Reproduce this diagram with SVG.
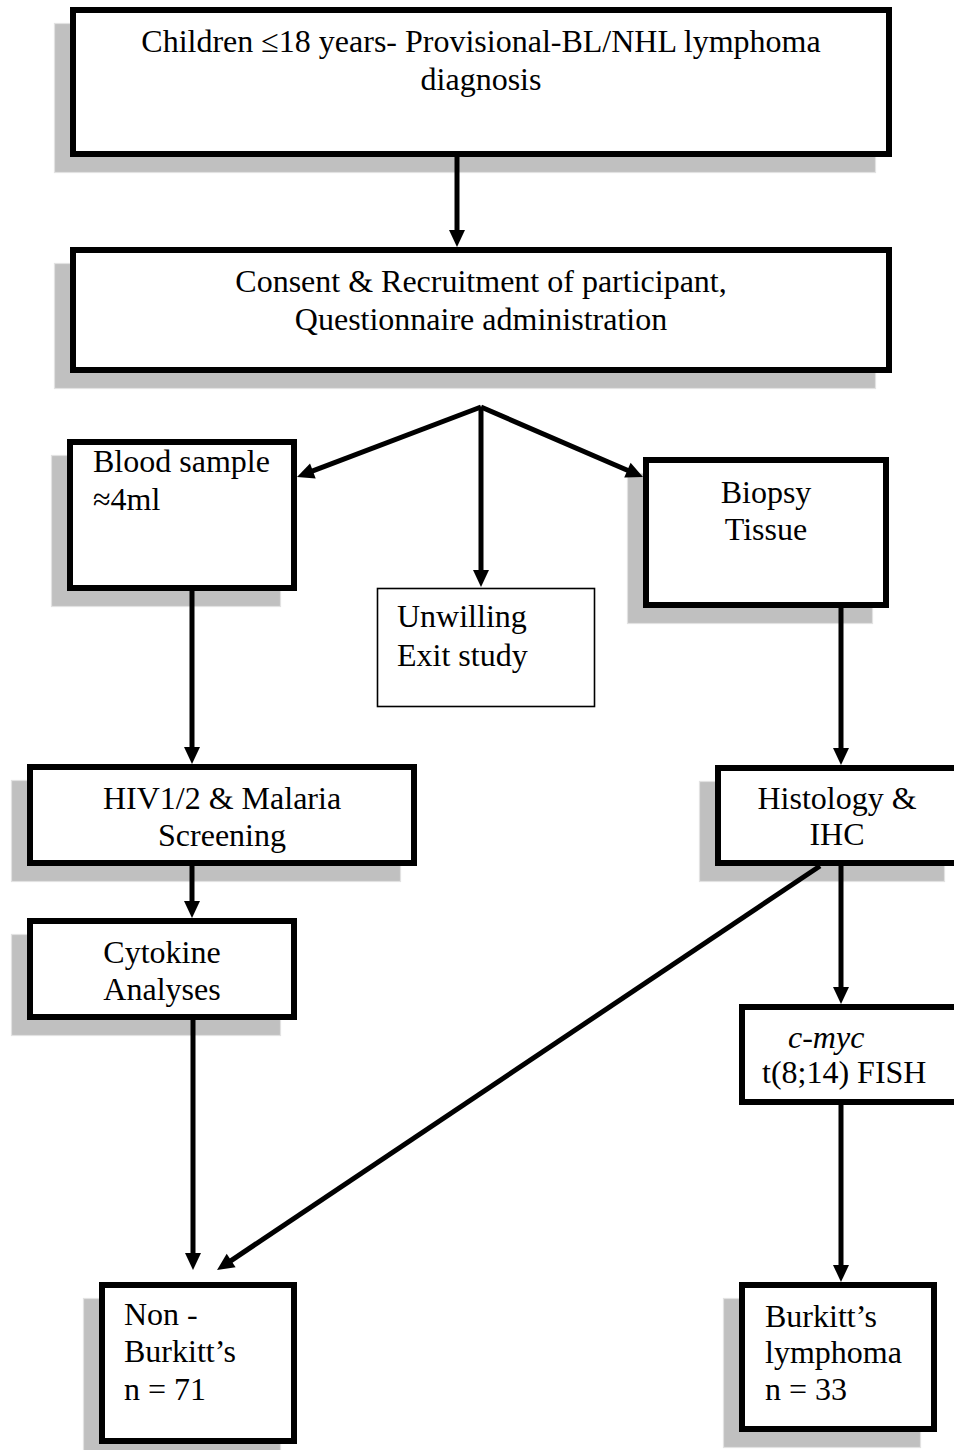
<svg xmlns="http://www.w3.org/2000/svg" width="954" height="1450" viewBox="0 0 954 1450">
<defs>
<style>
.shadow{fill:#c0c0c0;stroke:#e2e2e2;stroke-width:1.2}
.box{fill:#ffffff;stroke:#000000;stroke-width:6}
.thin{fill:#ffffff;stroke:#000000;stroke-width:1.6}
.t{font-family:"Liberation Serif","Times New Roman",serif;font-size:32px;fill:#000000}
.c{text-anchor:middle}
.arrow{stroke:#000000;stroke-width:5;fill:none;marker-end:url(#ah)}
</style>
<marker id="ah" markerUnits="userSpaceOnUse" markerWidth="17" markerHeight="16" refX="5" refY="8" orient="auto" overflow="visible">
<path d="M0,0 L17,8 L0,16 Z" fill="#000000"/>
</marker>
</defs>
<rect width="954" height="1450" fill="#ffffff"/>

<g id="node-diagnosis">
<rect class="shadow" x="54.5" y="23.5" width="821" height="149"/>
<rect class="box" x="73" y="10" width="816" height="144"/>
<text class="t c" x="481" y="52">Children ≤18 years- Provisional-BL/NHL lymphoma</text>
<text class="t c" x="481" y="90">diagnosis</text>
</g>

<g id="node-consent">
<rect class="shadow" x="54.5" y="263.5" width="821" height="125"/>
<rect class="box" x="73" y="250" width="816" height="120"/>
<text class="t c" x="481" y="292">Consent &amp; Recruitment of participant,</text>
<text class="t c" x="481" y="330">Questionnaire administration</text>
</g>

<g id="node-blood">
<rect class="shadow" x="51.5" y="455.5" width="229" height="151"/>
<rect class="box" x="70" y="442" width="224" height="146"/>
<text class="t" x="93" y="472">Blood sample</text>
<text class="t" x="93" y="510">≈4ml</text>
</g>

<g id="node-unwilling">
<rect class="thin" x="377.5" y="588.5" width="217" height="118"/>
<text class="t" x="397" y="627">Unwilling</text>
<text class="t" x="397" y="666">Exit study</text>
</g>

<g id="node-biopsy">
<rect class="shadow" x="627.5" y="473.5" width="245" height="150"/>
<rect class="box" x="646" y="460" width="240" height="145"/>
<text class="t c" x="766" y="503">Biopsy</text>
<text class="t c" x="766" y="540">Tissue</text>
</g>

<g id="node-hiv">
<rect class="shadow" x="11.5" y="780.5" width="389" height="101"/>
<rect class="box" x="30" y="767" width="384" height="96"/>
<text class="t c" x="222" y="809">HIV1/2 &amp; Malaria</text>
<text class="t c" x="222" y="846">Screening</text>
</g>

<g id="node-cytokine">
<rect class="shadow" x="11.5" y="934.5" width="269" height="101"/>
<rect class="box" x="30" y="921" width="264" height="96"/>
<text class="t c" x="162" y="963">Cytokine</text>
<text class="t c" x="162" y="1000">Analyses</text>
</g>

<g id="node-histology">
<rect class="shadow" x="699.5" y="781.5" width="245" height="100"/>
<rect class="box" x="718" y="768" width="244" height="95"/>
<text class="t c" x="837" y="809">Histology &amp;</text>
<text class="t c" x="837" y="845">IHC</text>
</g>

<g id="node-cmyc">
<rect class="box" x="742" y="1007" width="230" height="95"/>
<text class="t" x="788" y="1048" font-style="italic">c-myc</text>
<text class="t" x="762" y="1083">t(8;14) FISH</text>
</g>

<g id="node-nonburkitt">
<rect class="shadow" x="83.5" y="1298.5" width="197" height="160"/>
<rect class="box" x="102" y="1285" width="192" height="156"/>
<text class="t" x="124" y="1325">Non -</text>
<text class="t" x="124" y="1362">Burkitt’s</text>
<text class="t" x="124" y="1400">n = 71</text>
</g>

<g id="node-burkitt">
<rect class="shadow" x="723.5" y="1298.5" width="197" height="149"/>
<rect class="box" x="742" y="1285" width="192" height="144"/>
<text class="t" x="765" y="1327">Burkitt’s</text>
<text class="t" x="765" y="1363">lymphoma</text>
<text class="t" x="765" y="1400">n = 33</text>
</g>

<g id="connectors">
<line class="arrow" x1="457" y1="157" x2="457" y2="235"/>
<line class="arrow" x1="481" y1="407" x2="308.2" y2="472.7"/>
<line class="arrow" x1="481" y1="407" x2="481" y2="575"/>
<line class="arrow" x1="481" y1="407" x2="632" y2="472.2"/>
<line class="arrow" x1="192" y1="591" x2="192" y2="752"/>
<line class="arrow" x1="192" y1="866" x2="192" y2="906"/>
<line class="arrow" x1="193" y1="1020" x2="193" y2="1258"/>
<line class="arrow" x1="841" y1="608" x2="841" y2="753"/>
<line class="arrow" x1="841" y1="866" x2="841" y2="992"/>
<line class="arrow" x1="841" y1="1105" x2="841" y2="1270"/>
<line class="arrow" x1="820" y1="866" x2="227" y2="1263.3"/>
</g>
</svg>
